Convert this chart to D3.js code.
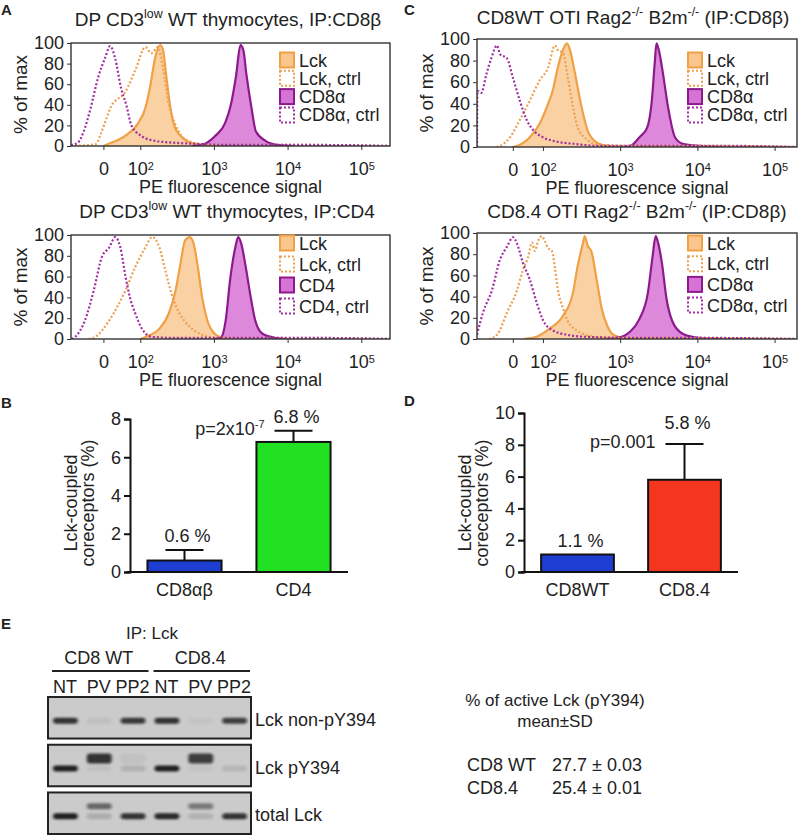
<!DOCTYPE html>
<html>
<head>
<meta charset="utf-8">
<script src="https://cdn.jsdelivr.net/npm/d3@7"></script>
<style>
body { margin: 0; background: #fff; }
text { font-family: "Liberation Sans", Arial, sans-serif; fill: #222; }
</style>
</head>
<body>
<script>
// ---------- data ----------
// x positions in display decades (10^2 = 1, 10^3 = 2 ...), y in % of max
var tickBase = ["0", "10", "10", "10", "10"];
var tickExp = ["", "2", "3", "4", "5"];
var ticksA = [0.5, 1, 2, 3, 4];
var ticksC = [0.61, 1, 2, 3, 4];
var yTicksHist = [0, 20, 40, 60, 80, 100];

var aTopLck = [[0.5,0],[0.566,2],[0.8,10],[0.97,22],[1.07,37],[1.14,60],[1.2,85],[1.27,98],[1.31,93],[1.35,70],[1.41,37],[1.47,18],[1.56,9],[1.69,3],[1.88,1],[2.1,0]];
var aTopLckCtrl = [[0.06,0],[0.3,1],[0.4,2],[0.47,13],[0.61,39],[0.8,53],[0.93,73],[1.07,96],[1.15,90],[1.24,96],[1.31,75],[1.38,43],[1.47,22],[1.56,10],[1.69,4],[1.9,1],[2.5,1],[3.3,1],[4.39,0]];
var aTopCD8 = [[1.7,0],[1.83,1],[2.02,10],[2.15,22],[2.23,40],[2.3,68],[2.36,98],[2.4,93],[2.44,70],[2.51,37],[2.57,14],[2.7,5],[2.87,1],[3.1,0]];
var aTopCD8Ctrl = [[0.06,1],[0.15,3],[0.227,13],[0.32,35],[0.43,67],[0.525,86],[0.59,97],[0.66,85],[0.74,56],[0.81,40],[0.88,20],[1.01,10],[1.2,5],[1.5,3],[1.79,2],[2.2,1],[2.8,1],[3.5,1],[4.39,0]];

var aBotLck = [[1.0,0],[1.07,2],[1.26,10],[1.39,25],[1.48,47],[1.54,70],[1.61,95],[1.67,98],[1.72,93],[1.78,70],[1.84,40],[1.91,18],[2.01,5],[2.12,1],[2.25,0]];
var aBotLckCtrl = [[0.3,0],[0.39,2],[0.58,18],[0.8,47],[0.93,69],[1.07,88],[1.16,98],[1.26,88],[1.34,66],[1.44,40],[1.53,25],[1.67,12],[1.84,4],[2.02,1],[2.8,1],[4.39,0]];
var aBotCD4 = [[2.0,0],[2.09,1],[2.16,18],[2.22,57],[2.29,88],[2.33,98],[2.37,92],[2.43,70],[2.5,40],[2.56,18],[2.66,5],[2.84,1],[3.0,0]];
var aBotCD4Ctrl = [[0.07,0],[0.116,2],[0.25,18],[0.37,47],[0.48,79],[0.58,88],[0.66,98],[0.73,88],[0.8,60],[0.86,40],[0.93,25],[1.03,9],[1.16,2],[1.5,1],[2.5,1],[3.5,1],[4.39,0]];

var cTopLck = [[0.6,0],[0.664,1],[0.83,9],[0.96,22],[1.05,37],[1.13,53],[1.19,73],[1.26,90],[1.31,96],[1.35,90],[1.41,70],[1.5,37],[1.58,15],[1.7,4],[1.83,1],[2.0,0]];
var cTopLckCtrl = [[0.4,0],[0.444,1],[0.573,9],[0.7,25],[0.83,43],[0.96,62],[1.065,73],[1.155,94],[1.19,90],[1.26,87],[1.32,65],[1.39,37],[1.45,18],[1.57,7],[1.74,2],[2.2,1],[3.2,1],[4.29,0]];
var cTopCD8 = [[2.0,0],[2.13,1],[2.25,9],[2.35,18],[2.41,43],[2.45,80],[2.47,96],[2.5,90],[2.55,70],[2.62,37],[2.71,9],[2.81,3],[3.03,1],[3.3,0]];
var cTopCD8Ctrl = [[0.146,0],[0.15,52],[0.2,50],[0.27,68],[0.33,82],[0.405,94],[0.444,86],[0.534,82],[0.612,64],[0.7,43],[0.79,25],[0.87,16],[1.0,9],[1.18,5],[1.39,3],[1.74,1],[2.5,1],[3.5,1],[4.29,0]];

var cBotLck = [[0.75,0],[0.87,1],[1.09,10],[1.26,22],[1.39,44],[1.45,69],[1.52,91],[1.54,97],[1.58,88],[1.63,82],[1.7,54],[1.76,29],[1.83,13],[1.91,4],[2.03,1],[2.2,0]];
var cBotLckCtrl = [[0.3,0],[0.405,4],[0.534,25],[0.664,46],[0.74,65],[0.806,77],[0.858,91],[0.897,83],[0.935,92],[0.987,97],[1.026,92],[1.065,86],[1.116,83],[1.155,67],[1.19,48],[1.26,29],[1.32,17],[1.44,8],[1.61,3],[1.83,1],[2.5,1],[4.29,0]];
var cBotCD8 = [[1.8,0],[1.96,1],[2.13,7],[2.25,19],[2.36,44],[2.42,78],[2.46,97],[2.49,91],[2.54,72],[2.6,38],[2.68,16],[2.81,5],[3.03,1],[3.3,0]];
var cBotCD8Ctrl = [[0.146,4],[0.224,25],[0.34,46],[0.444,75],[0.534,87],[0.612,96],[0.664,90],[0.74,72],[0.83,56],[0.92,34],[1.0,18],[1.13,8],[1.31,4],[1.57,2],[2.2,1],[3.2,1],[4.29,0]];

var legendCD8 = ["Lck", "Lck, ctrl", "CD8\u03b1", "CD8\u03b1, ctrl"];
var legendCD4 = ["Lck", "Lck, ctrl", "CD4", "CD4, ctrl"];

// titles: [text, superscript?]
var titleA1 = [["DP CD3", 0], ["low", 1], [" WT thymocytes, IP:CD8\u03b2", 0]];
var titleA2 = [["DP CD3", 0], ["low", 1], [" WT thymocytes, IP:CD4", 0]];
var titleC1 = [["CD8WT OTI Rag2", 0], ["-/-", 1], [" B2m", 0], ["-/-", 1], [" (IP:CD8\u03b2)", 0]];
var titleC2 = [["CD8.4 OTI Rag2", 0], ["-/-", 1], [" B2m", 0], ["-/-", 1], [" (IP:CD8\u03b2)", 0]];

// bar charts
var catsB = ["CD8\u03b1\u03b2", "CD4"];
var valsB = [0.6, 6.8];
var errB = [0.55, 0.58];
var labelsB = ["0.6 %", "6.8 %"];
var colorsB = ["#1e3ed2", "#22e122"];
var yTicksB = [0, 2, 4, 6, 8];

var catsD = ["CD8WT", "CD8.4"];
var valsD = [1.1, 5.8];
var errD = [0, 2.25];
var labelsD = ["1.1 %", "5.8 %"];
var colorsD = ["#1e3ed2", "#f5361e"];
var yTicksD = [0, 2, 4, 6, 8, 10];

// blot
var lanes = ["NT", "PV", "PP2", "NT", "PV", "PP2"];
var groups = ["CD8 WT", "CD8.4"];
var blotRows = ["Lck non-pY394", "Lck pY394", "total Lck"];
var bandLower = [[0.85, 0.06, 0.78, 0.85, 0.04, 0.75],
                 [0.95, 0.05, 0.12, 0.95, 0.04, 0.1],
                 [0.95, 0.15, 0.85, 0.9, 0.12, 0.85]];
var bandUpper = [[0, 0, 0, 0, 0, 0],
                 [0, 0.85, 0.05, 0, 0.8, 0],
                 [0, 0.55, 0, 0, 0.45, 0]];
var activeRows = [["CD8 WT", "27.7 \u00b1 0.03"], ["CD8.4", "25.4 \u00b1 0.01"]];

// ---------- drawing ----------
var W = 800, H = 837;
var orangeLine = "#f0a045", orangeFill = "#f9c68c", orangeDot = "#eca052";
var purpleLine = "#8c1a8c", purpleFill = "#d873d6", purpleDot = "#a22ea2";

var svg = d3.select("body").append("svg")
	.attr("width", W)
	.attr("height", H);
svg.append("rect").attr("width", W).attr("height", H).attr("fill", "#fff");
var defs = svg.append("defs");

function panelLetter(t, x, y) {
	svg.append("text").attr("x", x).attr("y", y)
		.style("font-size", "15px").style("font-weight", "bold").text(t);
}

// text with superscript parts, baseline restored after each one
function richText(sel, parts, size) {
	var shift = 0;
	parts.forEach(function(p) {
		var target = p[1] ? -size * 0.4 : 0;
		var ts = sel.append("tspan").attr("dy", target - shift).text(p[0]);
		if (p[1]) ts.style("font-size", (size * 0.65) + "px");
		shift = target;
	});
}

var hists = [
	{id: "a1", title: titleA1, tx: 228, ty: 26, left: 71, right: 390, top: 43, bottom: 146, dom: [0.06, 4.39], ticks: ticksA,
	 legend: legendCD8, legX: 280, legY: 60, legStep: 18.3,
	 lck: aTopLck, lckCtrl: aTopLckCtrl, co: aTopCD8, coCtrl: aTopCD8Ctrl},
	{id: "a2", title: titleA2, tx: 227, ty: 218, left: 71, right: 390, top: 235, bottom: 339, dom: [0.06, 4.39], ticks: ticksA,
	 legend: legendCD4, legX: 280, legY: 243, legStep: 21,
	 lck: aBotLck, lckCtrl: aBotLckCtrl, co: aBotCD4, coCtrl: aBotCD4Ctrl},
	{id: "c1", title: titleC1, tx: 633, ty: 24, left: 477, right: 797, top: 39, bottom: 147, dom: [0.146, 4.29], ticks: ticksC,
	 legend: legendCD8, legX: 688, legY: 60, legStep: 18.3,
	 lck: cTopLck, lckCtrl: cTopLckCtrl, co: cTopCD8, coCtrl: cTopCD8Ctrl},
	{id: "c2", title: titleC2, tx: 637, ty: 218, left: 477, right: 797, top: 233, bottom: 339, dom: [0.146, 4.29], ticks: ticksC,
	 legend: legendCD8, legX: 688, legY: 243, legStep: 20.7,
	 lck: cBotLck, lckCtrl: cBotLckCtrl, co: cBotCD8, coCtrl: cBotCD8Ctrl}
];

hists.forEach(function(p) {
	var g = svg.append("g");
	var x = d3.scaleLinear().domain(p.dom).range([p.left, p.right]);
	var y = d3.scaleLinear().domain([0, 100]).range([p.bottom, p.top]);

	defs.append("clipPath").attr("id", "clip-" + p.id)
		.append("rect")
		.attr("x", p.left).attr("y", p.top - 3)
		.attr("width", p.right - p.left).attr("height", p.bottom - p.top + 3);

	var area = d3.area().curve(d3.curveMonotoneX)
		.x(function(d) { return x(d[0]); })
		.y0(y(0))
		.y1(function(d) { return y(d[1]); });
	var line = d3.line().curve(d3.curveMonotoneX)
		.x(function(d) { return x(d[0]); })
		.y(function(d) { return y(d[1]); });

	var plot = g.append("g").attr("clip-path", "url(#clip-" + p.id + ")");
	plot.append("path").datum(p.lck).attr("d", area).attr("fill", orangeFill).attr("fill-opacity", 0.8);
	plot.append("path").datum(p.co).attr("d", area).attr("fill", purpleFill).attr("fill-opacity", 0.85);
	plot.append("path").datum(p.lck).attr("d", line).attr("fill", "none")
		.attr("stroke", orangeLine).attr("stroke-width", 2.2);
	plot.append("path").datum(p.co).attr("d", line).attr("fill", "none")
		.attr("stroke", purpleLine).attr("stroke-width", 2.2);
	plot.append("path").datum(p.lckCtrl).attr("d", line).attr("fill", "none")
		.attr("stroke", orangeDot).attr("stroke-width", 2.2).attr("stroke-dasharray", "2,2");
	plot.append("path").datum(p.coCtrl).attr("d", line).attr("fill", "none")
		.attr("stroke", purpleDot).attr("stroke-width", 2.2).attr("stroke-dasharray", "2,2");

	// frame
	g.append("rect")
		.attr("x", p.left).attr("y", p.top)
		.attr("width", p.right - p.left).attr("height", p.bottom - p.top)
		.attr("fill", "none").attr("stroke", "#333").attr("stroke-width", 1.4);

	var yAxis = d3.axisLeft(y).tickValues(yTicksHist).tickSize(4).tickPadding(3);
	var gy = g.append("g").attr("transform", "translate(" + p.left + ",0)").call(yAxis);
	gy.select(".domain").remove();
	gy.selectAll("text").style("font-size", "18px").attr("fill", "#222");
	gy.selectAll("line").attr("stroke", "#333");

	var xAxis = d3.axisBottom(x).tickValues(p.ticks).tickSize(4).tickPadding(12)
		.tickFormat(function(d) { return tickBase[p.ticks.indexOf(d)]; });
	var gx = g.append("g").attr("transform", "translate(0," + p.bottom + ")").call(xAxis);
	gx.select(".domain").remove();
	gx.selectAll("line").attr("stroke", "#333");
	gx.selectAll("text").style("font-size", "18px").attr("fill", "#222")
		.each(function(d) {
			var e = tickExp[p.ticks.indexOf(d)];
			if (e) d3.select(this).append("tspan").attr("dy", "-0.45em")
				.style("font-size", "11px").text(e);
		});

	g.append("text")
		.attr("x", (p.left + p.right) / 2).attr("y", p.bottom + 47)
		.attr("text-anchor", "middle").style("font-size", "18px")
		.text("PE fluorescence signal");

	g.append("text")
		.attr("transform", "translate(" + (p.left - 44) + "," + ((p.top + p.bottom) / 2) + ") rotate(-90)")
		.attr("text-anchor", "middle").style("font-size", "19px")
		.text("% of max");

	var tt = g.append("text").attr("x", p.tx).attr("y", p.ty)
		.attr("text-anchor", "middle").style("font-size", "19px");
	richText(tt, p.title, 19);

	// legend
	var leg = g.selectAll(".legend")
		.data(p.legend).enter()
		.append("g")
		.attr("transform", function(d, i) { return "translate(" + p.legX + "," + (p.legY + i * p.legStep) + ")"; });
	leg.append("rect")
		.attr("x", 0).attr("y", -7.5).attr("width", 14).attr("height", 15)
		.attr("fill", function(d, i) { return i === 0 ? orangeFill : (i === 2 ? purpleFill : "#fff"); })
		.attr("stroke", function(d, i) { return i === 0 ? orangeLine : i === 1 ? orangeDot : i === 2 ? purpleLine : purpleDot; })
		.attr("stroke-width", 2)
		.attr("stroke-dasharray", function(d, i) { return i % 2 ? "2,2" : null; });
	leg.append("text")
		.attr("x", 19).attr("y", 6.5)
		.style("font-size", "18px")
		.text(function(d) { return d; });
});

panelLetter("A", 1, 15);
panelLetter("C", 404, 15);
panelLetter("B", 1, 408);
panelLetter("D", 404, 406);
panelLetter("E", 1, 629);

// ---------- bar charts ----------
var bars = [
	{cats: catsB, vals: valsB, err: errB, labels: labelsB, colors: colorsB, ticks: yTicksB, ymax: 8,
	 left: 130, right: 348, ytop: 419, p: "p=2x10", pExp: "-7", lift: [8, 8]},
	{cats: catsD, vals: valsD, err: errD, labels: labelsD, colors: colorsD, ticks: yTicksD, ymax: 10,
	 left: 524, right: 738, ytop: 413, p: "p=0.001", pExp: "", lift: [8, 15]}
];
var barBase = 572;

bars.forEach(function(b) {
	var g = svg.append("g");
	var x = d3.scaleBand().domain(b.cats).range([b.left, b.right]).paddingInner(0.32).paddingOuter(0.16);
	var y = d3.scaleLinear().domain([0, b.ymax]).range([barBase, b.ytop]);
	var cx = function(i) { return x(b.cats[i]) + x.bandwidth() / 2; };

	var withErr = d3.range(b.vals.length).filter(function(i) { return b.err[i] > 0; });
	g.selectAll(".err").data(withErr).enter()
		.append("path")
		.attr("d", function(i) {
			var t = y(b.vals[i] + b.err[i]);
			return "M" + cx(i) + "," + y(b.vals[i]) + "V" + t + "M" + (cx(i) - 19) + "," + t + "H" + (cx(i) + 19);
		})
		.attr("stroke", "#111").attr("stroke-width", 2).attr("fill", "none");

	g.selectAll(".bar").data(b.vals).enter()
		.append("rect")
		.attr("x", function(d, i) { return x(b.cats[i]); })
		.attr("y", function(d) { return y(d); })
		.attr("width", x.bandwidth())
		.attr("height", function(d) { return barBase - y(d); })
		.attr("fill", function(d, i) { return b.colors[i]; })
		.attr("stroke", "#111").attr("stroke-width", 2);

	var yAxis = d3.axisLeft(y).tickValues(b.ticks).tickSize(6).tickPadding(3);
	var gy = g.append("g").attr("transform", "translate(" + b.left + ",0)").call(yAxis);
	gy.selectAll("text").style("font-size", "18px").attr("fill", "#222");
	gy.selectAll("line, path").attr("stroke", "#111").attr("stroke-width", 2);

	g.append("line")
		.attr("x1", b.left - 3).attr("x2", b.right)
		.attr("y1", barBase).attr("y2", barBase)
		.attr("stroke", "#111").attr("stroke-width", 2);

	g.selectAll(".xl").data(b.cats).enter()
		.append("text")
		.attr("x", function(d, i) { return cx(i); })
		.attr("y", barBase + 24)
		.attr("text-anchor", "middle").style("font-size", "18px")
		.text(function(d) { return d; });

	g.selectAll(".vl").data(b.vals).enter()
		.append("text")
		.attr("x", function(d, i) { return cx(i) + 3; })
		.attr("y", function(d, i) { return y(d + b.err[i]) - b.lift[i]; })
		.attr("text-anchor", "middle").style("font-size", "18px")
		.text(function(d, i) { return b.labels[i]; });

	var pt = g.append("text")
		.attr("x", cx(1) - 29)
		.attr("y", y(b.vals[1] + b.err[1]) + 4)
		.attr("text-anchor", "end").style("font-size", "18px");
	pt.append("tspan").text(b.p);
	if (b.pExp) pt.append("tspan").attr("dy", -7).style("font-size", "11px").text(b.pExp);

	var yt = g.append("text")
		.attr("transform", "translate(" + (b.left - 53) + "," + 503 + ") rotate(-90)")
		.attr("text-anchor", "middle").style("font-size", "18px");
	yt.append("tspan").attr("x", 0).attr("dy", 0).text("Lck-coupled");
	yt.append("tspan").attr("x", 0).attr("dy", 17).text("coreceptors (%)");
});

// ---------- blot ----------
var blot = svg.append("g");
var lx = d3.scaleBand().domain(d3.range(lanes.length)).range([48, 251]);
var ry = d3.scaleBand().domain(blotRows).range([697, 834]).paddingInner(0.13);
var blur = defs.append("filter").attr("id", "blur").attr("x", "-30%").attr("y", "-100%").attr("width", "160%").attr("height", "300%");
blur.append("feGaussianBlur").attr("stdDeviation", "1.8 1.3");

blot.append("text").attr("x", 152).attr("y", 639).attr("text-anchor", "middle")
	.style("font-size", "17px").text("IP: Lck");

groups.forEach(function(gname, gi) {
	var x0 = lx(gi * 3), x1 = lx(gi * 3 + 2) + lx.bandwidth();
	blot.append("text").attr("x", (x0 + x1) / 2).attr("y", 664)
		.attr("text-anchor", "middle").style("font-size", "18px").text(gname);
	blot.append("line").attr("x1", x0 + 4).attr("x2", x1 - 1).attr("y1", 671).attr("y2", 671)
		.attr("stroke", "#222").attr("stroke-width", 2);
});

blot.selectAll(".lane").data(lanes).enter()
	.append("text")
	.attr("x", function(d, i) { return lx(i) + lx.bandwidth() / 2; })
	.attr("y", 693)
	.attr("text-anchor", "middle").style("font-size", "18px")
	.text(function(d) { return d; });

blotRows.forEach(function(r, ri) {
	var top = ry(r), h = ry.bandwidth(), mid = top + h / 2;
	blot.append("rect").attr("x", 48).attr("y", top).attr("width", 203).attr("height", h)
		.attr("fill", "#cbcbcb").attr("stroke", "#222").attr("stroke-width", 2);
	var mob = d3.scaleLinear().domain([0, 1]).range([mid + 3, mid - 7]);
	var bg = blot.append("g").attr("filter", "url(#blur)");
	[bandLower[ri], bandUpper[ri]].forEach(function(vals, k) {
		bg.selectAll(null).data(vals).enter()
			.append("rect")
			.attr("x", function(d, i) { return lx(i) + 5; })
			.attr("y", function() { return mob(k) - (k && ri === 1 ? 5 : 3); })
			.attr("width", lx.bandwidth() - 9)
			.attr("height", k && ri === 1 ? 10 : 6)
			.attr("rx", 3)
			.attr("fill", "#151515")
			.attr("opacity", function(d) { return d; });
	});
	blot.append("text").attr("x", 255).attr("y", mid + 8)
		.style("font-size", "18px").text(r);
});

// right-hand summary
svg.append("text").attr("x", 555).attr("y", 706).attr("text-anchor", "middle")
	.style("font-size", "17px").text("% of active Lck (pY394)");
svg.append("text").attr("x", 555).attr("y", 727).attr("text-anchor", "middle")
	.style("font-size", "17px").text("mean\u00b1SD");
activeRows.forEach(function(r, i) {
	svg.append("text").attr("x", 467).attr("y", 771 + i * 23).style("font-size", "18px").text(r[0]);
	svg.append("text").attr("x", 642).attr("y", 771 + i * 23).attr("text-anchor", "end")
		.style("font-size", "18px").text(r[1]);
});
</script>
</body>
</html>
